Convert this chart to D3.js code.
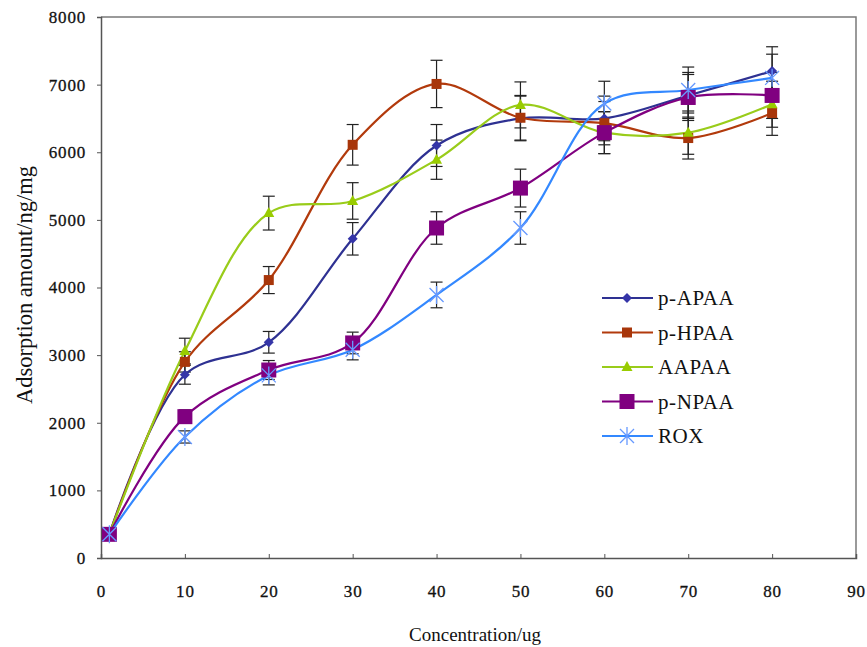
<!doctype html>
<html lang="en">
  <head>
    <meta charset="utf-8">
    <script src="https://d3js.org/d3.v7.min.js"></script>
    <title>Adsorption amount</title>
    <style>
      body { margin: 0; background: #fff; }
      text { font-family: "Liberation Serif", "DejaVu Serif", serif; fill: #111; }
      .series { fill: none; stroke-width: 2.2px; }
      .err { stroke: #222; stroke-width: 1.2px; }
    </style>
  </head>
  <body>
    <svg width="867" height="647"></svg>

    <script>
      // chart data
      const concentration = [1, 10, 20, 30, 40, 50, 60, 70, 80];
      const xTicks = [0, 10, 20, 30, 40, 50, 60, 70, 80, 90];
      const yTicks = [0, 1000, 2000, 3000, 4000, 5000, 6000, 7000, 8000];

      const seriesNames = ["p-APAA", "p-HPAA", "AAPAA", "p-NPAA", "ROX"];
      const pAPAA = [350, 2710, 3190, 4720, 6100, 6500, 6500, 6840, 7200];
      const pHPAA = [350, 2900, 4110, 6110, 7010, 6510, 6430, 6210, 6580];
      const AAPAA = [350, 3060, 5100, 5280, 5890, 6700, 6290, 6290, 6710];
      const pNPAA = [350, 2090, 2780, 3180, 4880, 5470, 6290, 6810, 6840];
      const ROX   = [350, 1790, 2700, 3080, 3890, 4880, 6720, 6920, 7100];

      // standard deviations (error bars)
      const pAPAAErr = [0, 140, 160, 240, 310, 330, 330, 340, 360];
      const pHPAAErr = [0, 150, 200, 300, 350, 330, 320, 310, 330];
      const AAPAAErr = [0, 190, 250, 270, 290, 340, 310, 320, 340];
      const pNPAAErr = [0, 100, 140, 160, 240, 280, 310, 340, 340];
      const ROXErr   = [0, 90, 140, 150, 190, 240, 330, 340, 350];

      const colors = ["#2E3192", "#B23A0C", "#99CC1A", "#800080", "#3388FF"];
      const markerColors = ["#3535A8", "#A8360A", "#99CC00", "#800080", "#6699FF"];

      const svg = d3.select("svg");
      const margin = { left: 101, top: 17, right: 11, bottom: 89 };
      const width = 867 - margin.left - margin.right;
      const height = 647 - margin.top - margin.bottom;

      const x = d3.scaleLinear().domain([0, 90]).range([0, width]);
      const y = d3.scaleLinear().domain([0, 8000]).range([height, 0]);

      const g = svg.append("g").attr("transform", `translate(${margin.left},${margin.top})`);

      // frame (top and right)
      g.append("path")
        .attr("d", `M0,0H${width}V${height}`)
        .attr("fill", "none")
        .attr("stroke", "#7a7a7a")
        .attr("stroke-width", 1.5);

      // y axis
      const yAxis = g.append("g")
        .call(d3.axisLeft(y).tickValues(yTicks).tickSize(4).tickPadding(11).tickFormat(d3.format("d")));
      yAxis.select(".domain").attr("stroke", "#555").attr("stroke-width", 1.5);
      yAxis.selectAll(".tick line").attr("stroke", "#555");
      yAxis.selectAll("text").attr("font-size", 17).attr("font-family", "Liberation Serif")
        .attr("letter-spacing", 0.8).attr("fill", "#111").attr("stroke", "#111").attr("stroke-width", 0.3);

      // x axis, ticks pointing inward
      const xAxis = g.append("g")
        .attr("transform", `translate(0,${height})`)
        .call(d3.axisBottom(x).tickValues(xTicks).tickSize(-4).tickPadding(27).tickFormat(d3.format("d")));
      xAxis.select(".domain").attr("stroke", "#555").attr("stroke-width", 1.5);
      xAxis.selectAll(".tick line").attr("stroke", "#555");
      xAxis.selectAll("text").attr("font-size", 17).attr("font-family", "Liberation Serif")
        .attr("letter-spacing", 0.8).attr("fill", "#111").attr("stroke", "#111").attr("stroke-width", 0.3);

      // axis titles
      svg.append("text")
        .attr("x", 475).attr("y", 641)
        .attr("text-anchor", "middle")
        .attr("font-size", 19)
        .text("Concentration/ug");

      svg.append("text")
        .attr("transform", "translate(32,285) rotate(-90)")
        .attr("text-anchor", "middle")
        .attr("font-size", 22.5)
        .text("Adsorption amount/ng/mg");

      const values = [pAPAA, pHPAA, AAPAA, pNPAA, ROX];
      const errors = [pAPAAErr, pHPAAErr, AAPAAErr, pNPAAErr, ROXErr];

      const line = d3.line()
        .x((d, i) => x(concentration[i]))
        .y(d => y(d))
        .curve(d3.curveCatmullRom.alpha(0.5));

      // error bars
      values.forEach((vals, s) => {
        const eb = g.append("g");
        vals.forEach((v, i) => {
          const e = errors[s][i];
          if (!e) return;
          const cx = x(concentration[i]);
          eb.append("line").attr("class", "err")
            .attr("x1", cx).attr("x2", cx).attr("y1", y(v - e)).attr("y2", y(v + e));
          [v - e, v + e].forEach(t => {
            eb.append("line").attr("class", "err")
              .attr("x1", cx - 6).attr("x2", cx + 6).attr("y1", y(t)).attr("y2", y(t));
          });
        });
      });

      // marker drawing
      function marker(sel, type, color) {
        if (type === 0) {
          sel.append("path").attr("d", "M0,-5L5,0L0,5L-5,0Z").attr("fill", color);
        } else if (type === 1) {
          sel.append("rect").attr("x", -5).attr("y", -5).attr("width", 10).attr("height", 10).attr("fill", color);
        } else if (type === 2) {
          sel.append("path").attr("d", "M0,-6L5.5,4L-5.5,4Z").attr("fill", color);
        } else if (type === 3) {
          sel.append("rect").attr("x", -7.5).attr("y", -7.5).attr("width", 15).attr("height", 15).attr("fill", color);
        } else {
          sel.append("path").attr("d", "M-7,-7L7,7M-7,7L7,-7M0,-9V9")
            .attr("stroke", color).attr("stroke-width", 1.3).attr("fill", "none");
        }
      }

      // series lines and markers
      values.forEach((vals, s) => {
        g.append("path")
          .datum(vals)
          .attr("class", "series")
          .attr("stroke", colors[s])
          .attr("d", line);
      });
      values.forEach((vals, s) => {
        vals.forEach((v, i) => {
          const m = g.append("g").attr("transform", `translate(${x(concentration[i])},${y(v)})`);
          marker(m, s, markerColors[s]);
        });
      });

      // legend
      const legend = svg.append("g").attr("transform", "translate(602,298)");
      seriesNames.forEach((name, s) => {
        const row = legend.append("g").attr("transform", `translate(0,${s * 34.5})`);
        row.append("line").attr("x1", 0).attr("x2", 51).attr("stroke", colors[s]).attr("stroke-width", 2.2);
        const m = row.append("g").attr("transform", "translate(25,0)");
        marker(m, s, markerColors[s]);
        row.append("text").attr("x", 56).attr("y", 7).attr("font-size", 21)
          .attr("letter-spacing", 0.6).text(name);
      });
    </script>
  </body>
</html>
